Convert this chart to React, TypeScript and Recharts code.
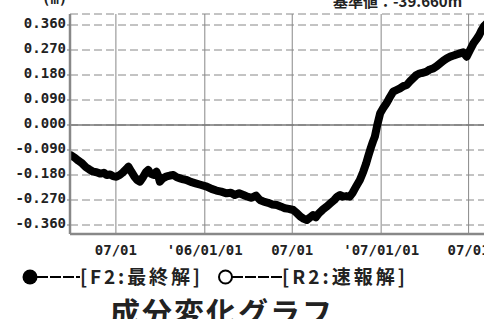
import React from 'react';
import { LineChart, Line, XAxis, YAxis, CartesianGrid, ReferenceLine } from 'recharts';

// days since 2005-07-01
const days = [
  -92, -85, -78, -70, -62, -55, -47, -40, -32, -25, -19, -12, -5, 1, 8, 15, 22, 26, 32, 38,
  44, 50, 56, 62, 67, 72, 78, 84, 88, 91, 97, 105, 112, 119, 126, 133, 140, 146, 155, 165,
  175, 188, 198, 208, 218, 229, 238, 246, 255, 264, 272, 281, 290, 298, 306, 315, 324, 333, 342, 350,
  358, 367, 375, 382, 389, 395, 401, 408, 414, 420, 428, 436, 444, 452, 458, 464, 470, 477, 484, 490,
  497, 505, 512, 518, 522, 528, 532, 536, 541, 547, 553, 560, 567, 574, 581, 588, 595, 602, 609, 616,
  622, 629, 636, 643, 650, 657, 664, 671, 678, 685, 692, 699, 705, 712, 719, 726, 733, 740, 746, 752,
  757, 762, 770,
];
const f2Values = [
  -0.110, -0.118, -0.128, -0.138, -0.152, -0.160, -0.168, -0.170, -0.175, -0.172, -0.180, -0.178, -0.185, -0.186, -0.180, -0.170, -0.158, -0.150, -0.168, -0.185,
  -0.198, -0.204, -0.188, -0.170, -0.162, -0.175, -0.180, -0.168, -0.185, -0.204, -0.192, -0.185, -0.182, -0.180, -0.188, -0.192, -0.196, -0.198, -0.205, -0.210,
  -0.215, -0.222, -0.230, -0.236, -0.240, -0.246, -0.244, -0.252, -0.246, -0.252, -0.258, -0.262, -0.254, -0.270, -0.276, -0.280, -0.286, -0.288, -0.294, -0.300,
  -0.302, -0.306, -0.318, -0.330, -0.338, -0.342, -0.334, -0.324, -0.332, -0.318, -0.305, -0.294, -0.282, -0.270, -0.258, -0.252, -0.258, -0.256, -0.258, -0.244,
  -0.222, -0.198, -0.168, -0.138, -0.114, -0.080, -0.060, -0.042, 0.000, 0.042, 0.060, 0.078, 0.100, 0.120, 0.126, 0.132, 0.140, 0.144, 0.158, 0.170,
  0.180, 0.186, 0.188, 0.192, 0.200, 0.204, 0.212, 0.222, 0.232, 0.240, 0.246, 0.250, 0.254, 0.258, 0.262, 0.246, 0.270, 0.294, 0.308, 0.324,
  0.342, 0.356, 0.370,
];
const xTicks = [0, 184, 365, 549, 730];
const xTickLabels = ['07/01', "'06/01/01", '07/01', "'07/01/01", '07/01'];
const yTicks = [-0.36, -0.27, -0.18, -0.09, 0, 0.09, 0.18, 0.27, 0.36];
const unitLabel = '(m)';
const baseLabel = '基準値：-39.660m';
const legendF2 = '[F2:最終解]';
const legendR2 = '[R2:速報解]';
const titleText = '成分変化グラフ';

const data = days.map((d, i) => ({ day: d, f2: f2Values[i] }));

const monoFont = '"DejaVu Sans Mono", "Liberation Mono", monospace';
const cjkFont = '"Noto Sans CJK JP", "Noto Sans", sans-serif';

const YTick = (props: any) => {
  const { x, y, payload } = props;
  return (
    <text x={x} y={y} dy={3} textAnchor="end" fontFamily={monoFont} fontWeight="bold" fontSize={14} fill="#222">
      {Number(payload.value).toFixed(3)}
    </text>
  );
};

const XTick = (props: any) => {
  const { x, y, payload } = props;
  const idx = xTicks.indexOf(payload.value);
  return (
    <text x={x} y={y} dy={13} textAnchor="middle" fontFamily={monoFont} fontWeight="bold" fontSize={14} fill="#222">
      {idx >= 0 ? xTickLabels[idx] : ''}
    </text>
  );
};

export default function App() {
  const xDomain: [number, number] = [-95, 795];
  const yDomain: [number, number] = [-0.3924, 0.3996];
  return (
    <div style={{ position: 'absolute', left: 0, top: 0, width: 484, height: 319, overflow: 'hidden', background: '#fff' }}>
      <div style={{ position: 'absolute', left: 0, top: 0 }}>
        <LineChart width={520} height={319} data={data} margin={{ top: 14, right: 20, bottom: 65, left: 0 }}>
          <CartesianGrid horizontal={false} stroke="#888" strokeWidth={1} />
          <CartesianGrid vertical={false} stroke="#888" strokeDasharray="8 4" strokeWidth={1} />
          <ReferenceLine y={0} stroke="#777" strokeWidth={1.5} />
          <XAxis
            dataKey="day"
            type="number"
            domain={xDomain}
            ticks={xTicks}
            allowDataOverflow
            height={20}
            tick={<XTick />}
            tickLine={false}
            axisLine={{ stroke: '#888', strokeWidth: 2.5 }}
          />
          <XAxis
            xAxisId="top"
            orientation="top"
            dataKey="day"
            type="number"
            domain={xDomain}
            allowDataOverflow
            height={0}
            tick={false}
            tickLine={false}
            axisLine={{ stroke: '#777', strokeWidth: 2.5 }}
          />
          <YAxis
            type="number"
            domain={yDomain}
            ticks={yTicks}
            allowDataOverflow
            width={70}
            tick={<YTick />}
            tickSize={3}
            tickMargin={1}
            tickLine={{ stroke: '#777' }}
            axisLine={{ stroke: '#888', strokeWidth: 2.5 }}
          />
          <Line
            type="linear"
            dataKey="f2"
            stroke="#000"
            strokeWidth={8}
            strokeLinejoin="round"
            strokeLinecap="round"
            dot={false}
            isAnimationActive={false}
          />
        </LineChart>
      </div>
      <svg width={484} height={319} style={{ position: 'absolute', left: 0, top: 0, pointerEvents: 'none' }}>
        <text x={42} y={4} fontFamily={monoFont} fontWeight="bold" fontSize={14} fill="#222">{unitLabel}</text>
        <text x={333} y={7} fontFamily={cjkFont} fontWeight="bold" fontSize={15} fill="#222">{baseLabel}</text>
        <circle cx={30} cy={277} r={7.5} fill="#000" />
        <line x1={37} y1={277} x2={80} y2={277} stroke="#000" strokeWidth={2} strokeDasharray="11 2" />
        <text x={80} y={284} fontFamily={cjkFont} fontWeight="bold" fontSize={19} fill="#222" textLength={120} lengthAdjust="spacing">{legendF2}</text>
        <circle cx={225.5} cy={277} r={6.5} fill="#fff" stroke="#000" strokeWidth={2} />
        <line x1={232} y1={277} x2={282} y2={277} stroke="#000" strokeWidth={2} strokeDasharray="11 2" />
        <text x={282} y={284} fontFamily={cjkFont} fontWeight="bold" fontSize={19} fill="#222" textLength={123} lengthAdjust="spacing">{legendR2}</text>
        <text x={110} y={324} fontFamily={cjkFont} fontWeight="bold" fontSize={30} fill="#222" textLength={222} lengthAdjust="spacing">{titleText}</text>
      </svg>
    </div>
  );
}
